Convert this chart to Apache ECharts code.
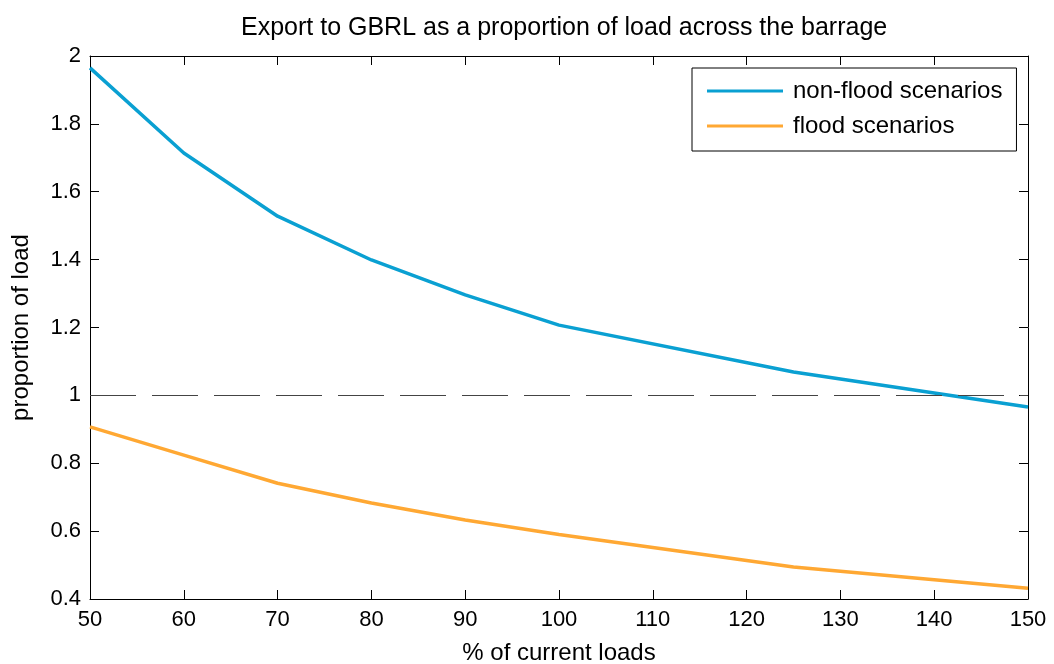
<!DOCTYPE html>
<html>
<head>
<meta charset="utf-8">
<script src="https://cdn.jsdelivr.net/npm/echarts@6/dist/echarts.min.js"></script>
<style>
html,body{margin:0;padding:0;background:#fff;}
#chart{width:1054px;height:664px;}
</style>
</head>
<body>
<div id="chart"></div>
<script>
const titleText = 'Export to GBRL as a proportion of load across the barrage';
const loadPct = [50, 60, 70, 80, 90, 100, 125, 150];
const nonFlood = [1.965, 1.714, 1.528, 1.399, 1.296, 1.207, 1.069, 0.966];
const flood = [0.907, 0.824, 0.741, 0.683, 0.633, 0.590, 0.494, 0.432];
const refLevel = 1;
const seriesNames = ['non-flood scenarios', 'flood scenarios'];
const xName = '% of current loads';
const yName = 'proportion of load';

const FONT = 'Liberation Sans, Arial, sans-serif';
const toPairs = (xs, ys) => xs.map((x, i) => [x, ys[i]]);

const chart = echarts.init(document.getElementById('chart'), null, {renderer: 'canvas'});
const tickCommon = {show: true, inside: true, length: 9, lineStyle: {color: '#000', width: 1}};
const lineCommon = {show: true, onZero: false, lineStyle: {color: '#000', width: 1}};
const labelStyle = {color: '#000', fontSize: 22, fontFamily: FONT};

chart.setOption({
  backgroundColor: '#fff',
  animation: false,
  title: {
    text: titleText, left: 236, top: 11,
    textStyle: {color: '#000', fontSize: 25, fontWeight: 'normal', fontFamily: FONT}
  },
  legend: {
    orient: 'vertical', left: 692, top: 68,
    borderColor: '#000', borderWidth: 1,
    padding: [11, 14, 13, 15],
    itemGap: 11, itemWidth: 76, itemHeight: 3, icon: 'rect',
    textStyle: {color: '#000', fontSize: 24, fontFamily: FONT, lineHeight: 22, padding: [0, 0, 0, 5]},
    data: seriesNames
  },
  grid: {left: 90, right: 26, top: 56, bottom: 65, containLabel: false, outerBoundsMode: 'none'},
  xAxis: [{
    type: 'value', min: 50, max: 150, interval: 10, position: 'bottom',
    name: xName, nameLocation: 'middle', nameGap: 42,
    nameTextStyle: {color: '#000', fontSize: 24, fontFamily: FONT},
    axisLine: lineCommon, axisTick: tickCommon,
    axisLabel: Object.assign({margin: 10}, labelStyle),
    splitLine: {show: false}
  }, {
    type: 'value', min: 50, max: 150, interval: 10, position: 'top',
    axisLine: lineCommon, axisTick: tickCommon,
    axisLabel: {show: false}, splitLine: {show: false}
  }],
  yAxis: [{
    type: 'value', min: 0.4, max: 2, interval: 0.2, position: 'left',
    name: yName, nameLocation: 'middle', nameGap: 57, nameRotate: 90,
    nameTextStyle: {color: '#000', fontSize: 24, fontFamily: FONT},
    axisLine: lineCommon, axisTick: tickCommon,
    axisLabel: Object.assign({margin: 9, formatter: v => String(+v.toFixed(1))}, labelStyle),
    splitLine: {show: false}
  }, {
    type: 'value', min: 0.4, max: 2, interval: 0.2, position: 'right',
    axisLine: lineCommon, axisTick: tickCommon,
    axisLabel: {show: false}, splitLine: {show: false}
  }],
  series: [{
    name: seriesNames[0], type: 'line', data: toPairs(loadPct, nonFlood),
    symbol: 'none', lineStyle: {color: '#0aa0d2', width: 3.5}, itemStyle: {color: '#0aa0d2'},
    markLine: {
      silent: true, symbol: 'none', label: {show: false},
      lineStyle: {color: '#444', width: 1.2, type: [46, 16]},
      data: [{yAxis: refLevel}]
    },
    z: 3
  }, {
    name: seriesNames[1], type: 'line', data: toPairs(loadPct, flood),
    symbol: 'none', lineStyle: {color: '#ffa833', width: 3.5}, itemStyle: {color: '#ffa833'},
    z: 3
  }]
});
</script>
</body>
</html>
